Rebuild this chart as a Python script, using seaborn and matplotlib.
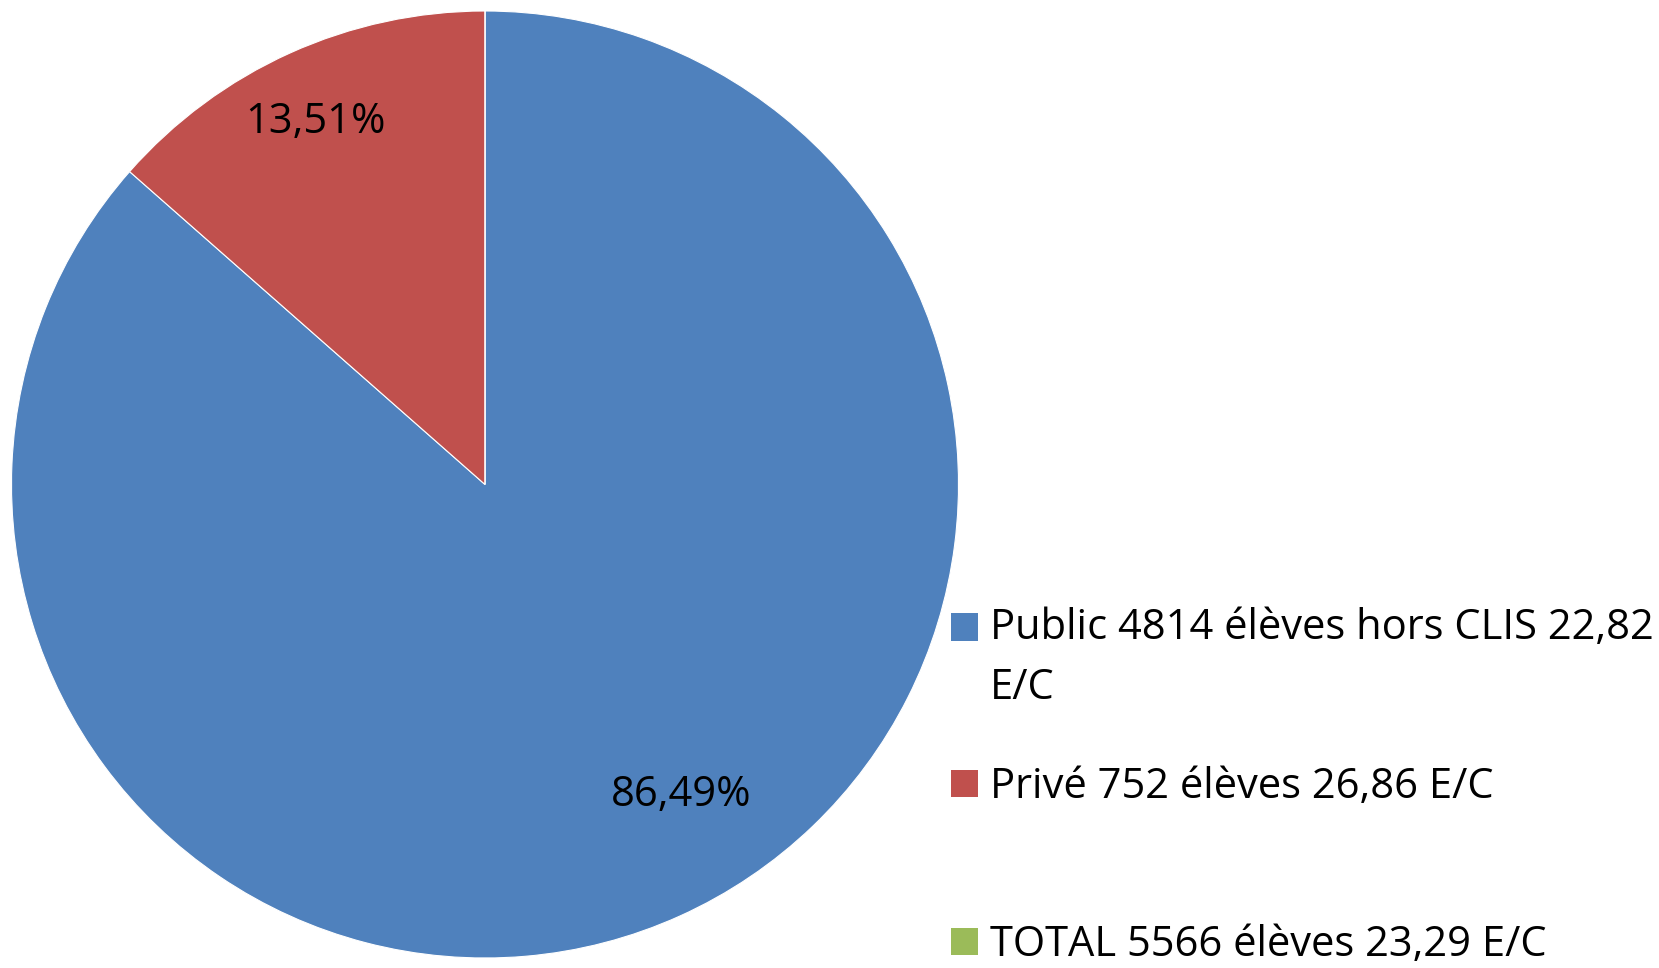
import matplotlib
matplotlib.use("Agg")
import matplotlib.pyplot as plt
from matplotlib.patches import Rectangle
from matplotlib.legend_handler import HandlerPatch
import numpy as np
import seaborn as sns

categories = ["Public 4814 élèves hors CLIS 22,82\nE/C", "Privé 752 élèves 26,86 E/C", "TOTAL 5566 élèves 23,29 E/C"]
values = [4814, 752, 0]
pct_labels = ["86,49%", "13,51%", ""]

sns.set_theme(style="white")
plt.rcParams['font.family'] = ['Open Sans', 'DejaVu Sans']
colors = ["#4F81BD", "#C0504D", "#9BBB59"]
FS = 30
LS = 1.55

W, H = 1659, 968
fig = plt.figure(figsize=(W / 100, H / 100), dpi=100)
cx, cy, R = 485, 484.5, 473.5
ax = fig.add_axes([(cx - R) / W, (H - cy - R) / H, 2 * R / W, 2 * R / H])
wedges, _ = ax.pie(values, colors=colors, startangle=90, counterclock=False,
                   wedgeprops=dict(linewidth=0.8, edgecolor="white"))
ax.set_aspect("equal")
ax.set_xlim(-1, 1); ax.set_ylim(-1, 1)

# percentage labels (radius, angle shift from wedge middle)
label_place = [(0.776, 7.9), (0.845, 0.7), (0.8, 0)]
for w, lab, (r, shift) in zip(wedges, pct_labels, label_place):
    if not lab:
        continue
    mid = np.deg2rad((w.theta1 + w.theta2) / 2 + shift)
    ax.text(r * np.cos(mid), r * np.sin(mid), lab, ha="center", va="center",
            fontsize=FS, color="black")


def top_patch(legend, orig_handle, xdescent, ydescent, width, height, fontsize):
    shift = LS * fontsize / 2
    return Rectangle((-xdescent, -ydescent + shift), width, height)


item_centers = [658, 787, 945]
for i, (w, lab, yc) in enumerate(zip(wedges, categories, item_centers)):
    hm = {w: HandlerPatch(patch_func=top_patch)} if "\n" in lab else None
    leg = fig.legend([w], [lab], loc="center left", bbox_to_anchor=(951 / W, 1 - yc / H),
                     frameon=False, fontsize=FS, handlelength=0.64, handleheight=0.64,
                     handletextpad=0.3, borderaxespad=0, borderpad=0, handler_map=hm)
    for t in leg.get_texts():
        t.set_linespacing(LS)
        t.set_color("black")
    for p in leg.get_patches():
        p.set_edgecolor("none")

fig.savefig("out.png", dpi=100)
